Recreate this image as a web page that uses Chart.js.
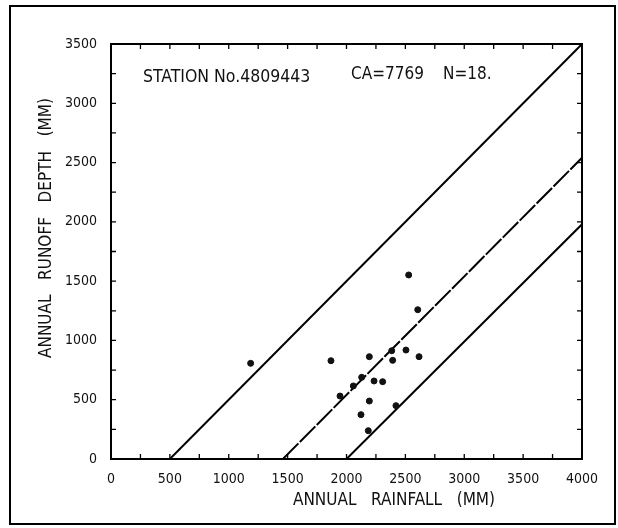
<!DOCTYPE html>
<html>
<head>
<meta charset="utf-8">
<script src="https://cdn.jsdelivr.net/npm/chart.js@4.4.1/dist/chart.umd.min.js"></script>
<style>
  html, body { margin: 0; padding: 0; background: #fff; }
  #wrap { width: 618px; height: 528px; position: relative; }
</style>
</head>
<body>
<div id="wrap"><canvas id="rainChart"></canvas></div>
<script>
// observed annual rainfall / runoff pairs (mm)
const rainfall = [1186, 1868, 1945, 2058, 2129, 2123, 2185, 2194, 2194, 2234, 2307, 2384, 2392, 2420, 2505, 2528, 2605, 2616];
const runoff   = [807, 829, 531, 616, 689, 374, 239, 863, 489, 658, 652, 913, 832, 450, 919, 1552, 1259, 863];

// envelope lines (end points, mm)
const upperX = [500, 4000],  upperY = [0, 3500];
const middleX = [1460, 4000], middleY = [0, 2540];
const lowerX = [2000, 4000], lowerY = [0, 1980];

const xTicks = [0, 500, 1000, 1500, 2000, 2500, 3000, 3500, 4000];
const yTicks = [0, 500, 1000, 1500, 2000, 2500, 3000, 3500];

const FONT = "'Liberation Sans Narrow', 'DejaVu Sans Condensed', 'Liberation Sans', sans-serif";

function pairs(xs, ys) {
  return xs.map((x, i) => ({ x: x, y: ys[i] }));
}

// frame, inward ticks and the hand lettered captions
const framePlugin = {
  id: "framePlugin",
  beforeDraw(chart) {
    const c = chart.ctx;
    c.save();
    c.fillStyle = "#fff";
    c.fillRect(0, 0, chart.width, chart.height);
    c.strokeStyle = "#000";
    c.lineWidth = 2;
    c.strokeRect(10, 6, 605, 518);
    c.restore();
  },
  afterDraw(chart) {
    const c = chart.ctx;
    const a = chart.chartArea;
    const xs = chart.scales.x, ys = chart.scales.y;
    c.save();
    c.strokeStyle = "#000";
    c.lineWidth = 2;
    c.strokeRect(a.left, a.top, a.right - a.left, a.bottom - a.top);

    c.lineWidth = 1.3;
    c.beginPath();
    for (let v = 250; v < 4000; v += 250) {
      const px = xs.getPixelForValue(v);
      c.moveTo(px, a.bottom); c.lineTo(px, a.bottom - 5);
      c.moveTo(px, a.top); c.lineTo(px, a.top + 5);
    }
    for (let v = 250; v < 3500; v += 250) {
      const py = ys.getPixelForValue(v);
      c.moveTo(a.left, py); c.lineTo(a.left + 5, py);
      c.moveTo(a.right, py); c.lineTo(a.right - 5, py);
    }
    c.stroke();

    c.fillStyle = "#111";
    c.textBaseline = "middle";
    c.textAlign = "left";
    c.font = "17.5px " + FONT;
    c.fillText("STATION No.4809443", a.left + 32, a.top + 33);
    c.font = "17px " + FONT;
    c.fillText("CA=7769", a.left + 240, a.top + 31);
    c.fillText("N=18.", a.left + 332, a.top + 31);

    c.textAlign = "center";
    c.font = "17px " + FONT;
    c.fillText("ANNUAL   RAINFALL   (MM)", 394, 501);

    c.translate(47, 228);
    c.rotate(-Math.PI / 2);
    c.fillText("ANNUAL   RUNOFF   DEPTH   (MM)", 0, 0);
    c.restore();
  }
};

const ctx = document.getElementById("rainChart").getContext("2d");
const rainChart = new Chart(ctx, {
  type: "scatter",
  data: {
    datasets: [
      {
        label: "Observed",
        data: pairs(rainfall, runoff),
        backgroundColor: "#111",
        borderColor: "#111",
        pointRadius: 3,
        pointHoverRadius: 3
      },
      {
        label: "Upper",
        data: pairs(upperX, upperY),
        showLine: true,
        borderColor: "#000",
        borderWidth: 2,
        pointRadius: 0
      },
      {
        label: "Middle",
        data: pairs(middleX, middleY),
        showLine: true,
        borderColor: "#000",
        borderWidth: 2,
        borderDash: [22, 2],
        pointRadius: 0
      },
      {
        label: "Lower",
        data: pairs(lowerX, lowerY),
        showLine: true,
        borderColor: "#000",
        borderWidth: 2,
        pointRadius: 0
      }
    ]
  },
  options: {
    responsive: true,
    maintainAspectRatio: false,
    animation: false,
    layout: { padding: { left: 10, right: 36, top: 44, bottom: 10 } },
    plugins: {
      legend: { display: false },
      tooltip: { enabled: false }
    },
    scales: {
      x: {
        type: "linear",
        min: 0,
        max: 4000,
        afterFit: (s) => { s.height = 59; },
        afterBuildTicks: (s) => { s.ticks = xTicks.map((v) => ({ value: v })); },
        grid: { display: false },
        border: { display: false },
        ticks: {
          color: "#111",
          padding: 4,
          maxRotation: 0,
          font: { family: FONT, size: 14 },
          callback: (v) => String(v)
        }
      },
      y: {
        type: "linear",
        min: 0,
        max: 3500,
        afterFit: (s) => { s.width = 101; },
        afterBuildTicks: (s) => { s.ticks = yTicks.map((v) => ({ value: v })); },
        grid: { display: false },
        border: { display: false },
        ticks: {
          color: "#111",
          padding: 6,
          font: { family: FONT, size: 14 },
          callback: (v) => String(v)
        }
      }
    }
  },
  plugins: [framePlugin]
});
</script>
</body>
</html>
